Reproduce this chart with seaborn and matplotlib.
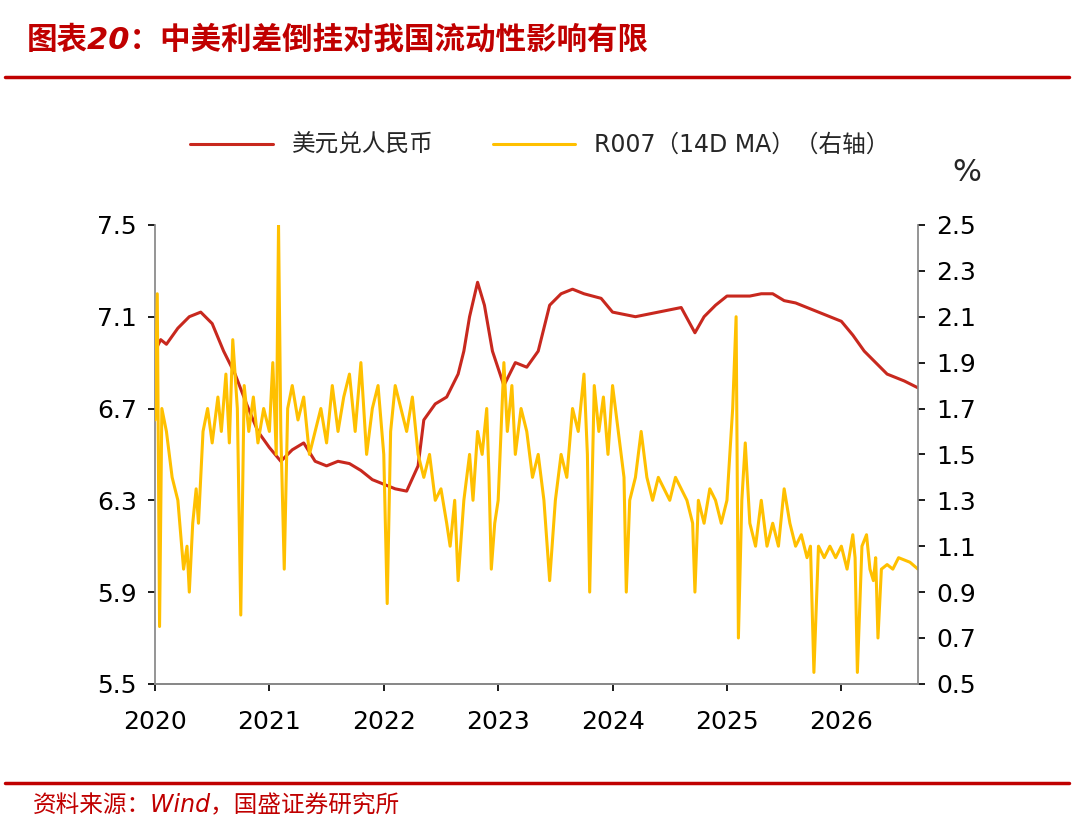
import matplotlib
matplotlib.use("Agg")
import matplotlib.pyplot as plt
import seaborn as sns
import pandas as pd

sns.set_theme(style="white")
plt.rcParams['font.family'] = ['DejaVu Sans', 'Noto Sans CJK SC']

# 美元兑人民币 (left axis)
usd_t = [2020.0, 2020.05, 2020.1, 2020.2, 2020.3, 2020.4, 2020.5, 2020.6, 2020.7, 2020.8, 2020.9,
         2021.0, 2021.1, 2021.2, 2021.3, 2021.4, 2021.5, 2021.6, 2021.7, 2021.8, 2021.9,
         2022.0, 2022.1, 2022.2, 2022.3, 2022.35, 2022.45, 2022.55, 2022.65, 2022.7, 2022.75,
         2022.82, 2022.88, 2022.95, 2023.05, 2023.15, 2023.25, 2023.35, 2023.45, 2023.55, 2023.65,
         2023.75, 2023.9, 2024.0, 2024.2, 2024.4, 2024.6, 2024.72, 2024.8, 2024.9, 2025.0, 2025.2,
         2025.3, 2025.4, 2025.5, 2025.6, 2025.8, 2026.0, 2026.1, 2026.2, 2026.3, 2026.4, 2026.55, 2026.67]
usd_v = [6.95, 7.0, 6.98, 7.05, 7.1, 7.12, 7.07, 6.95, 6.85, 6.72, 6.6,
         6.53, 6.47, 6.52, 6.55, 6.47, 6.45, 6.47, 6.46, 6.43, 6.39,
         6.37, 6.35, 6.34, 6.45, 6.65, 6.72, 6.75, 6.85, 6.95, 7.1,
         7.25, 7.15, 6.95, 6.8, 6.9, 6.88, 6.95, 7.15, 7.2, 7.22,
         7.2, 7.18, 7.12, 7.1, 7.12, 7.14, 7.03, 7.1, 7.15, 7.19, 7.19,
         7.2, 7.2, 7.17, 7.16, 7.12, 7.08, 7.02, 6.95, 6.9, 6.85, 6.82, 6.79]

# R007 14D MA (right axis)
r_t = [2020.0, 2020.02, 2020.04, 2020.06, 2020.1, 2020.15, 2020.2, 2020.25, 2020.28, 2020.3, 2020.33,
       2020.36, 2020.38, 2020.42, 2020.46, 2020.5, 2020.55, 2020.58, 2020.62, 2020.65, 2020.68, 2020.72,
       2020.75, 2020.78, 2020.82, 2020.86, 2020.9, 2020.95, 2021.0, 2021.03, 2021.06, 2021.08, 2021.1,
       2021.13, 2021.16, 2021.2, 2021.25, 2021.3, 2021.35, 2021.4, 2021.45, 2021.5, 2021.55, 2021.6,
       2021.65, 2021.7, 2021.75, 2021.8, 2021.85, 2021.9, 2021.95, 2022.0, 2022.03, 2022.06, 2022.1,
       2022.15, 2022.2, 2022.25, 2022.3, 2022.35, 2022.4, 2022.45, 2022.5, 2022.55, 2022.58, 2022.62,
       2022.65, 2022.7, 2022.75, 2022.78, 2022.82, 2022.86, 2022.9, 2022.92, 2022.94, 2022.97, 2023.0,
       2023.05, 2023.08, 2023.12, 2023.15, 2023.2, 2023.25, 2023.3, 2023.35, 2023.4, 2023.45, 2023.5,
       2023.55, 2023.6, 2023.65, 2023.7, 2023.75, 2023.78, 2023.8, 2023.84, 2023.88, 2023.92, 2023.96,
       2024.0, 2024.05, 2024.1, 2024.12, 2024.15, 2024.2, 2024.25, 2024.3, 2024.35, 2024.4, 2024.45,
       2024.5, 2024.55, 2024.6, 2024.65, 2024.7, 2024.72, 2024.75, 2024.8, 2024.85, 2024.9, 2024.95,
       2025.0, 2025.05, 2025.08, 2025.1, 2025.13, 2025.16, 2025.2, 2025.25, 2025.3, 2025.35, 2025.4,
       2025.45, 2025.5, 2025.55, 2025.6, 2025.65, 2025.7, 2025.73, 2025.76, 2025.8, 2025.85, 2025.9,
       2025.95, 2026.0, 2026.05, 2026.1, 2026.12, 2026.14, 2026.18, 2026.22, 2026.25, 2026.28, 2026.3,
       2026.32, 2026.35, 2026.4, 2026.45, 2026.5, 2026.55, 2026.6, 2026.67]
r_v = [1.65, 2.2, 0.75, 1.7, 1.6, 1.4, 1.3, 1.0, 1.1, 0.9, 1.2,
       1.35, 1.2, 1.6, 1.7, 1.55, 1.75, 1.6, 1.85, 1.55, 2.0, 1.7,
       0.8, 1.8, 1.6, 1.75, 1.55, 1.7, 1.6, 1.9, 1.5, 2.5, 1.6,
       1.0, 1.7, 1.8, 1.65, 1.75, 1.5, 1.6, 1.7, 1.55, 1.8, 1.6,
       1.75, 1.85, 1.6, 1.9, 1.5, 1.7, 1.8, 1.5, 0.85, 1.6, 1.8,
       1.7, 1.6, 1.75, 1.5, 1.4, 1.5, 1.3, 1.35, 1.2, 1.1, 1.3,
       0.95, 1.3, 1.5, 1.3, 1.6, 1.5, 1.7, 1.4, 1.0, 1.2, 1.3,
       1.9, 1.6, 1.8, 1.5, 1.7, 1.6, 1.4, 1.5, 1.3, 0.95, 1.3,
       1.5, 1.4, 1.7, 1.6, 1.85, 1.5, 0.9, 1.8, 1.6, 1.75, 1.5,
       1.8, 1.6, 1.4, 0.9, 1.3, 1.4, 1.6, 1.4, 1.3, 1.4, 1.35,
       1.3, 1.4, 1.35, 1.3, 1.2, 0.9, 1.3, 1.2, 1.35, 1.3, 1.2,
       1.3, 1.7, 2.1, 0.7, 1.3, 1.55, 1.2, 1.1, 1.3, 1.1, 1.2,
       1.1, 1.35, 1.2, 1.1, 1.15, 1.05, 1.1, 0.55, 1.1, 1.05, 1.1,
       1.05, 1.1, 1.0, 1.15, 1.05, 0.55, 1.1, 1.15, 1.0, 0.95, 1.05,
       0.7, 1.0, 1.02, 1.0, 1.05, 1.04, 1.03, 1.0]

year_ticks = [2020, 2021, 2022, 2023, 2024, 2025, 2026]

RED = '#C8281E'
YEL = '#FFC000'
TITLE_RED = '#C00000'

usd = pd.DataFrame({'t': usd_t, 'v': usd_v})
r007 = pd.DataFrame({'t': r_t, 'v': r_v})

fig = plt.figure(figsize=(10.8, 8.33), dpi=100)
ax = fig.add_axes([0.1435, 0.179, 0.7065, 0.551])
ax2 = ax.twinx()

sns.lineplot(data=usd, x='t', y='v', ax=ax, color=RED, lw=2.2, label='美元兑人民币', legend=False)
sns.lineplot(data=r007, x='t', y='v', ax=ax2, color=YEL, lw=2.2, label='R007（14D MA）（右轴）', legend=False)
# yellow line over red
ax.set_zorder(0)
ax2.set_zorder(1)
ax2.patch.set_visible(False)

ax.set_xlim(2020, 2026.67)
ax.set_ylim(5.5, 7.5)
ax.set_yticks([5.5, 5.9, 6.3, 6.7, 7.1, 7.5])
ax2.set_ylim(0.5, 2.5)
ax2.set_yticks([0.5, 0.7, 0.9, 1.1, 1.3, 1.5, 1.7, 1.9, 2.1, 2.3, 2.5])
ax.set_xticks(year_ticks)
ax.set_xticklabels([str(y) for y in year_ticks])
for a in (ax, ax2):
    a.set_xlabel('')
    a.set_ylabel('')
    a.tick_params(labelsize=18, colors='black', length=5, direction='out', pad=8)
    a.spines['top'].set_visible(False)
    for s in ('left', 'right', 'bottom'):
        a.spines[s].set_color('#888888')
ax.spines['right'].set_visible(False)
ax2.spines['left'].set_visible(False)
ax.tick_params(axis='x', bottom=True, pad=14)
ax.tick_params(axis='y', left=True)
ax2.tick_params(axis='y', right=True)
ax.grid(False)
ax2.grid(False)

h1, l1 = ax.get_legend_handles_labels()
h2, l2 = ax2.get_legend_handles_labels()
fig.legend(h1 + h2, l1 + l2, loc='center', bbox_to_anchor=(0.5, 0.826), ncol=2,
           frameon=False, fontsize=17, handlelength=3.5, columnspacing=2.5)
fig.text(0.895, 0.793, '%', fontsize=22, ha='center', va='center')

fig.text(0.025, 0.952, '图表20：中美利差倒挂对我国流动性影响有限', fontsize=22, color=TITLE_RED,
         fontweight='bold', style='italic', va='center')
fig.add_artist(plt.Line2D([0.005, 0.99], [0.907, 0.907], color=TITLE_RED, lw=2.5))
fig.add_artist(plt.Line2D([0.005, 0.99], [0.06, 0.06], color=TITLE_RED, lw=2.5))
fig.text(0.03, 0.033, '资料来源：Wind，国盛证券研究所', fontsize=17, color=TITLE_RED,
         style='italic', va='center')

fig.savefig('out.png', dpi=100)
